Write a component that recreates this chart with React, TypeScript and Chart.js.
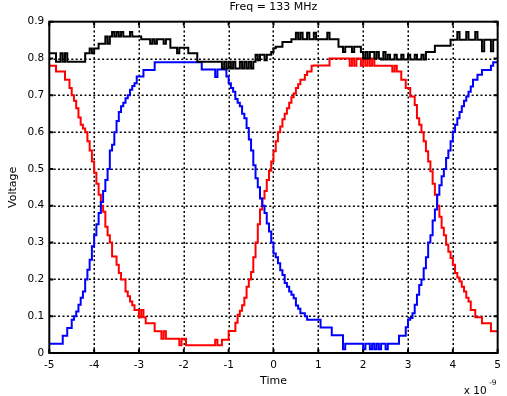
import React, { useEffect, useRef } from "react";
import { Chart, registerables } from "chart.js";

Chart.register(...registerables);

const TITLE = "Freq = 133 MHz";
const X_LABEL = "Time";
const Y_LABEL = "Voltage";
const X_EXP_BASE = "x 10";
const X_EXP_POWER = "-9";

// traces are sampled every 0.05 ns starting at -5 ns
const T_START = -5;
const T_STEP = 0.05;

const timeTicks = [-5, -4, -3, -2, -1, 0, 1, 2, 3, 4, 5];
const voltageTicks = [0, 0.1, 0.2, 0.3, 0.4, 0.5, 0.6, 0.7, 0.8, 0.9];

// falling / rising output (red), one row per 0.5 ns
const redTrace = [
  0.78, 0.78, 0.78, 0.78, 0.765, 0.765, 0.765, 0.765, 0.742, 0.742,
  0.72, 0.70, 0.685, 0.665, 0.64, 0.62, 0.61, 0.60, 0.575, 0.55,
  0.52, 0.49, 0.46, 0.43, 0.40, 0.384, 0.343, 0.32, 0.30, 0.262,
  0.262, 0.24, 0.217, 0.20, 0.20, 0.167, 0.154, 0.14, 0.13, 0.117,
  0.117, 0.097, 0.117, 0.097, 0.081, 0.081, 0.081, 0.081, 0.059, 0.059,
  0.059, 0.039, 0.059, 0.039, 0.039, 0.039, 0.039, 0.039, 0.039, 0.021,
  0.039, 0.039, 0.021, 0.021, 0.021, 0.021, 0.021, 0.021, 0.021, 0.021,
  0.021, 0.021, 0.021, 0.021, 0.021, 0.036, 0.021, 0.021, 0.036, 0.036,
  0.036, 0.06, 0.06, 0.06, 0.082, 0.104, 0.115, 0.13, 0.15, 0.18,
  0.20, 0.22, 0.26, 0.30, 0.35, 0.39, 0.42, 0.44, 0.47, 0.495,
  0.52, 0.548, 0.575, 0.60, 0.615, 0.635, 0.65, 0.665, 0.68, 0.695,
  0.705, 0.72, 0.73, 0.742, 0.742, 0.755, 0.765, 0.765, 0.78, 0.781,
  0.781, 0.781, 0.781, 0.781, 0.781, 0.781, 0.80, 0.80, 0.80, 0.80,
  0.80, 0.80, 0.80, 0.80, 0.80, 0.78, 0.80, 0.78, 0.80, 0.80,
  0.78, 0.80, 0.78, 0.80, 0.78, 0.80, 0.78, 0.78, 0.78, 0.78,
  0.78, 0.78, 0.78, 0.78, 0.765, 0.78, 0.765, 0.765, 0.742, 0.742,
  0.72, 0.72, 0.697, 0.697, 0.674, 0.638, 0.62, 0.60, 0.575, 0.548,
  0.52, 0.494, 0.46, 0.43, 0.40, 0.37, 0.34, 0.32, 0.294, 0.275,
  0.258, 0.24, 0.217, 0.205, 0.194, 0.18, 0.167, 0.15, 0.14, 0.117,
  0.117, 0.097, 0.097, 0.097, 0.081, 0.081, 0.081, 0.081, 0.059, 0.059,
  0.059,
];

// complementary output (blue)
const blueTrace = [
  0.025, 0.025, 0.025, 0.025, 0.025, 0.025, 0.025, 0.047, 0.047, 0.068,
  0.068, 0.09, 0.10, 0.113, 0.131, 0.15, 0.167, 0.20, 0.226, 0.253,
  0.29, 0.32, 0.35, 0.38, 0.41, 0.44, 0.47, 0.50, 0.55, 0.566,
  0.60, 0.63, 0.655, 0.67, 0.68, 0.692, 0.70, 0.715, 0.725, 0.733,
  0.751, 0.751, 0.751, 0.769, 0.769, 0.769, 0.769, 0.769, 0.79, 0.79,
  0.79, 0.79, 0.79, 0.79, 0.79, 0.79, 0.79, 0.79, 0.79, 0.79,
  0.79, 0.79, 0.79, 0.79, 0.79, 0.79, 0.79, 0.79, 0.79, 0.77,
  0.77, 0.77, 0.77, 0.77, 0.77, 0.75, 0.77, 0.77, 0.77, 0.77,
  0.751, 0.733, 0.72, 0.71, 0.69, 0.68, 0.67, 0.65, 0.638, 0.611,
  0.58, 0.55, 0.51, 0.475, 0.45, 0.42, 0.40, 0.38, 0.352, 0.33,
  0.30, 0.27, 0.26, 0.244, 0.225, 0.212, 0.19, 0.18, 0.167, 0.158,
  0.149, 0.129, 0.12, 0.108, 0.108, 0.10, 0.09, 0.09, 0.09, 0.09,
  0.09, 0.09, 0.069, 0.069, 0.069, 0.069, 0.069, 0.048, 0.048, 0.048,
  0.048, 0.048, 0.01, 0.025, 0.025, 0.025, 0.025, 0.025, 0.025, 0.025,
  0.025, 0.01, 0.025, 0.025, 0.01, 0.025, 0.01, 0.025, 0.01, 0.025,
  0.025, 0.01, 0.025, 0.025, 0.025, 0.025, 0.025, 0.047, 0.047, 0.047,
  0.07, 0.09, 0.095, 0.108, 0.131, 0.158, 0.185, 0.20, 0.23, 0.26,
  0.30, 0.32, 0.36, 0.39, 0.43, 0.456, 0.48, 0.50, 0.53, 0.55,
  0.575, 0.602, 0.62, 0.638, 0.655, 0.67, 0.685, 0.697, 0.71, 0.724,
  0.742, 0.742, 0.756, 0.756, 0.769, 0.769, 0.769, 0.769, 0.78, 0.79,
  0.79,
];

// supply rail (black)
const blackTrace = [
  0.814, 0.814, 0.814, 0.814, 0.791, 0.791, 0.814, 0.791, 0.814, 0.791,
  0.791, 0.791, 0.791, 0.791, 0.791, 0.791, 0.791, 0.814, 0.814, 0.827,
  0.814, 0.827, 0.827, 0.84, 0.84, 0.84, 0.86, 0.84, 0.86, 0.872,
  0.86, 0.872, 0.86, 0.872, 0.86, 0.86, 0.86, 0.872, 0.86, 0.86,
  0.86, 0.86, 0.852, 0.852, 0.852, 0.852, 0.84, 0.852, 0.84, 0.852,
  0.852, 0.852, 0.84, 0.852, 0.852, 0.829, 0.829, 0.829, 0.814, 0.829,
  0.829, 0.829, 0.829, 0.814, 0.814, 0.814, 0.814, 0.791, 0.791, 0.791,
  0.791, 0.791, 0.791, 0.791, 0.791, 0.791, 0.791, 0.791, 0.773, 0.791,
  0.773, 0.791, 0.773, 0.791, 0.773, 0.773, 0.791, 0.773, 0.791, 0.773,
  0.791, 0.773, 0.791, 0.81, 0.795, 0.81, 0.81, 0.795, 0.81, 0.81,
  0.818, 0.828, 0.832, 0.832, 0.832, 0.845, 0.845, 0.845, 0.845, 0.852,
  0.852, 0.87, 0.852, 0.87, 0.852, 0.852, 0.87, 0.852, 0.852, 0.87,
  0.852, 0.852, 0.852, 0.852, 0.852, 0.87, 0.852, 0.852, 0.852, 0.852,
  0.832, 0.832, 0.818, 0.832, 0.832, 0.832, 0.818, 0.832, 0.832, 0.832,
  0.818, 0.80, 0.818, 0.80, 0.818, 0.818, 0.80, 0.818, 0.80, 0.797,
  0.818, 0.797, 0.81, 0.797, 0.797, 0.81, 0.797, 0.797, 0.81, 0.797,
  0.797, 0.81, 0.797, 0.797, 0.81, 0.797, 0.797, 0.81, 0.797, 0.818,
  0.818, 0.818, 0.818, 0.835, 0.835, 0.835, 0.835, 0.835, 0.835, 0.835,
  0.851, 0.851, 0.851, 0.872, 0.851, 0.851, 0.851, 0.872, 0.851, 0.851,
  0.851, 0.872, 0.851, 0.851, 0.82, 0.851, 0.851, 0.851, 0.82, 0.851,
  0.851,
];

const FONT_FAMILY = "'DejaVu Sans', sans-serif";

const toPoints = (trace: number[]) =>
  trace.map((v, i) => ({ x: Math.round((T_START + i * T_STEP) * 100) / 100, y: v }));

// dotted grid below the traces, boxed frame with inward ticks above them
const boxedAxes = {
  id: "boxedAxes",
  beforeDatasetsDraw(chart: any) {
    const { ctx, chartArea: a, scales } = chart;
    const xs = scales.x;
    const ys = scales.y;
    ctx.save();
    ctx.strokeStyle = "#000";
    ctx.lineWidth = 1.5;
    ctx.setLineDash([2, 2.4]);
    ctx.beginPath();
    timeTicks.slice(1, -1).forEach((t) => {
      const px = Math.round(xs.getPixelForValue(t)) + 0.25;
      ctx.moveTo(px, a.top);
      ctx.lineTo(px, a.bottom);
    });
    voltageTicks.slice(1, -1).forEach((v) => {
      const py = Math.round(ys.getPixelForValue(v)) + 0.25;
      ctx.moveTo(a.left, py);
      ctx.lineTo(a.right, py);
    });
    ctx.stroke();
    ctx.restore();
  },
  afterDatasetsDraw(chart: any) {
    const { ctx, chartArea: a, scales } = chart;
    const xs = scales.x;
    const ys = scales.y;
    const len = 4;
    ctx.save();
    ctx.strokeStyle = "#000";
    ctx.lineWidth = 2;
    ctx.setLineDash([]);
    ctx.strokeRect(a.left, a.top, a.right - a.left, a.bottom - a.top);
    ctx.beginPath();
    timeTicks.forEach((t) => {
      const px = xs.getPixelForValue(t);
      ctx.moveTo(px, a.bottom);
      ctx.lineTo(px, a.bottom - len);
      ctx.moveTo(px, a.top);
      ctx.lineTo(px, a.top + len);
    });
    voltageTicks.forEach((v) => {
      const py = ys.getPixelForValue(v);
      ctx.moveTo(a.left, py);
      ctx.lineTo(a.left + len, py);
      ctx.moveTo(a.right, py);
      ctx.lineTo(a.right - len, py);
    });
    ctx.stroke();

    // title and axis exponent
    ctx.fillStyle = "#000";
    ctx.font = `11px ${FONT_FAMILY}`;
    ctx.textAlign = "center";
    ctx.textBaseline = "alphabetic";
    ctx.fillText(TITLE, (a.left + a.right) / 2, 10);

    ctx.textAlign = "left";
    ctx.font = `10.5px ${FONT_FAMILY}`;
    ctx.fillText(X_EXP_BASE, a.right - 34, 394);
    ctx.font = `7.5px ${FONT_FAMILY}`;
    ctx.fillText(X_EXP_POWER, a.right - 8.5, 384.5);
    ctx.restore();
  },
};

export default function App() {
  const canvasRef = useRef<HTMLCanvasElement | null>(null);

  useEffect(() => {
    const canvas = canvasRef.current;
    if (!canvas) return;
    Chart.defaults.color = "#000";

    const tickFont = { family: FONT_FAMILY, size: 10.5 };
    const labelFont = { family: FONT_FAMILY, size: 11 };

    const chart = new Chart(canvas, {
      type: "line",
      data: {
        datasets: [
          {
            label: "rail",
            data: toPoints(blackTrace),
            borderColor: "#000000",
            borderWidth: 2,
            stepped: "after",
            pointRadius: 0,
            fill: false,
          },
          {
            label: "out-",
            data: toPoints(blueTrace),
            borderColor: "#0000ff",
            borderWidth: 2,
            stepped: "after",
            pointRadius: 0,
            fill: false,
          },
          {
            label: "out+",
            data: toPoints(redTrace),
            borderColor: "#ff0000",
            borderWidth: 2,
            stepped: "after",
            pointRadius: 0,
            fill: false,
          },
        ],
      },
      options: {
        animation: false,
        responsive: false,
        events: [],
        layout: { padding: { left: 0, right: 7.7, top: 21.7, bottom: 0 } },
        plugins: {
          legend: { display: false },
          tooltip: { enabled: false },
          title: { display: false },
        },
        scales: {
          x: {
            type: "linear",
            min: -5,
            max: 5,
            afterFit: (s: any) => {
              s.height = 43;
            },
            afterBuildTicks: (s: any) => {
              s.ticks = timeTicks.map((v) => ({ value: v }));
            },
            grid: { display: false, drawTicks: false },
            border: { display: false },
            ticks: {
              color: "#000",
              font: tickFont,
              padding: 6,
              maxRotation: 0,
              autoSkip: false,
              callback: (v: any) => String(v),
            },
            title: {
              display: true,
              text: X_LABEL,
              color: "#000",
              font: labelFont,
              padding: { top: 0, bottom: 8 },
            },
          },
          y: {
            type: "linear",
            min: 0,
            max: 0.9,
            afterFit: (s: any) => {
              s.width = 49.3;
            },
            afterBuildTicks: (s: any) => {
              s.ticks = voltageTicks.map((v) => ({ value: v }));
            },
            grid: { display: false, drawTicks: false },
            border: { display: false },
            ticks: {
              color: "#000",
              font: tickFont,
              padding: 5,
              autoSkip: false,
              callback: (v: any) => String(Math.round(Number(v) * 10) / 10),
            },
            title: {
              display: true,
              text: Y_LABEL,
              color: "#000",
              font: labelFont,
              padding: { top: 7, bottom: 0 },
            },
          },
        },
      },
      plugins: [boxedAxes],
    } as any);

    return () => {
      chart.destroy();
    };
  }, []);

  return (
    <div style={{ position: "absolute", left: 0, top: 0, width: 507, height: 396, background: "#fff" }}>
      <canvas ref={canvasRef} width={507} height={396} style={{ display: "block" }} />
    </div>
  );
}
